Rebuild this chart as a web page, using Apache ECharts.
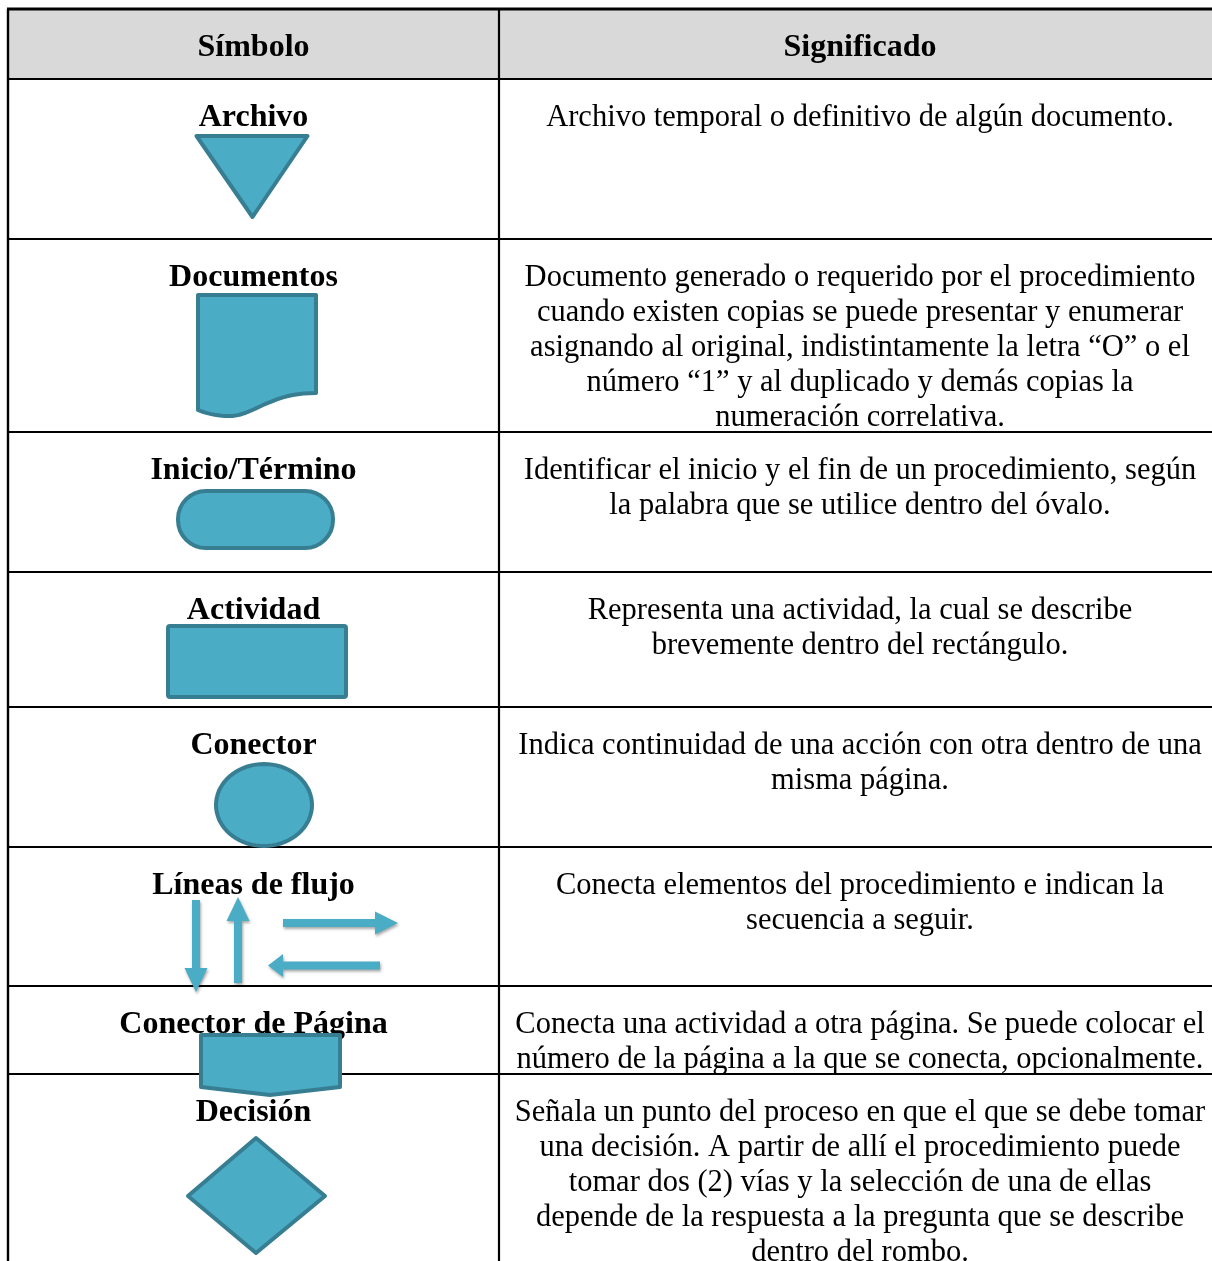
<!DOCTYPE html>
<html>
<head>
<meta charset="utf-8">
<script src="https://cdn.jsdelivr.net/npm/echarts@6/dist/echarts.min.js"></script>
<style>
html,body{margin:0;padding:0;background:#fff;}
#chart{width:1212px;height:1261px;}
</style>
</head>
<body>
<div id="chart"></div>
<script>
// ---------- DATA ----------
const headers = ['Símbolo', 'Significado'];
const symbolNames = ['Archivo', 'Documentos', 'Inicio/Término', 'Actividad', 'Conector', 'Líneas de flujo', 'Conector de Página', 'Decisión'];
const symbolShapes = ['triangle', 'document', 'terminal', 'process', 'connector', 'arrows', 'offpage', 'diamond'];
const meanings = [
  'Archivo temporal o definitivo de algún documento.',
  'Documento generado o requerido por el procedimiento\ncuando existen copias se puede presentar y enumerar\nasignando al original, indistintamente la letra “O” o el\nnúmero “1” y al duplicado y demás copias la\nnumeración correlativa.',
  'Identificar el inicio y el fin de un procedimiento, según\nla palabra que se utilice dentro del óvalo.',
  'Representa una actividad, la cual se describe\nbrevemente dentro del rectángulo.',
  'Indica continuidad de una acción con otra dentro de una\nmisma página.',
  'Conecta elementos del procedimiento e indican la\nsecuencia a seguir.',
  'Conecta una actividad a otra página. Se puede colocar el\nnúmero de la página a la que se conecta, opcionalmente.',
  'Señala un punto del proceso en que el que se debe tomar\nuna decisión. A partir de allí el procedimiento puede\ntomar dos (2) vías y la selección de una de ellas\ndepende de la respuesta a la pregunta que se describe\ndentro del rombo.'
];

// ---------- LAYOUT (page units) ----------
const rowEdges = [9, 79, 239, 432, 572, 707, 847, 986, 1074, 1300];
const colEdges = [8, 499, 1221];
const FILL = '#4BACC6', STROKE = '#377E92';
const SERIF = '"Liberation Serif", "Times New Roman", serif';

const chart = echarts.init(document.getElementById('chart'), null, {renderer: 'canvas'});

function lineEl(api, x1, y1, x2, y2, w) {
  const a = api.coord([x1, y1]), b = api.coord([x2, y2]);
  return {type: 'line', shape: {x1: a[0], y1: a[1], x2: b[0], y2: b[1]}, style: {stroke: '#000', lineWidth: w}};
}

function renderGrid(params, api) {
  const children = [];
  const h0 = api.coord([colEdges[0], rowEdges[0]]), h1 = api.coord([colEdges[2] + 20, rowEdges[1]]);
  children.push({type: 'rect', shape: {x: h0[0], y: h0[1], width: h1[0] - h0[0], height: h1[1] - h0[1]}, style: {fill: '#D9D9D9'}});
  rowEdges.forEach((y, i) => {
    if (i === rowEdges.length - 1) return;
    children.push(lineEl(api, colEdges[0] - 1, y, colEdges[2] + 20, y, i === 0 ? 2.8 : 2.2));
  });
  children.push(lineEl(api, colEdges[0], rowEdges[0], colEdges[0], 1300, 2.4));
  children.push(lineEl(api, colEdges[1], rowEdges[0], colEdges[1], 1300, 2.2));
  return {type: 'group', children: children};
}

function renderTexts(params, api) {
  const i = params.dataIndex;
  const top = rowEdges[i];
  const c1 = (colEdges[0] + colEdges[1]) / 2;
  const c2 = (colEdges[1] + colEdges[2]) / 2;
  const children = [];
  if (i === 0) {
    const mid = (rowEdges[0] + rowEdges[1]) / 2 + 3.5;
    const p1 = api.coord([c1, mid]), p2 = api.coord([c2, mid]);
    children.push({type: 'text', style: {text: headers[0], x: p1[0], y: p1[1], align: 'center', verticalAlign: 'middle', font: 'bold 32px ' + SERIF, fill: '#000'}});
    children.push({type: 'text', style: {text: headers[1], x: p2[0], y: p2[1], align: 'center', verticalAlign: 'middle', font: 'bold 32px ' + SERIF, fill: '#000'}});
  } else {
    const k = i - 1;
    const p1 = api.coord([c1, top + 39]);
    children.push({type: 'text', style: {text: symbolNames[k], x: p1[0], y: p1[1], align: 'center', verticalAlign: 'middle', font: 'bold 32px ' + SERIF, fill: '#000'}});
    const p2 = api.coord([c2, top + 21.5]);
    children.push({type: 'text', style: {text: meanings[k], x: p2[0], y: p2[1], align: 'center', verticalAlign: 'top', lineHeight: 35, font: '30.5px ' + SERIF, fill: '#000'}});
  }
  return {type: 'group', children: children};
}

function bez(p0, p1, p2, p3, n) {
  const out = [];
  for (let j = 1; j <= n; j++) {
    const t = j / n, u = 1 - t;
    out.push([
      u*u*u*p0[0] + 3*u*u*t*p1[0] + 3*u*t*t*p2[0] + t*t*t*p3[0],
      u*u*u*p0[1] + 3*u*u*t*p1[1] + 3*u*t*t*p2[1] + t*t*t*p3[1]
    ]);
  }
  return out;
}

function renderShapes(params, api) {
  const k = params.dataIndex;
  const kind = symbolShapes[k];
  const top = rowEdges[k + 1];
  const cx = (colEdges[0] + colEdges[1]) / 2;
  const P = (dx, dy) => api.coord([cx + dx, top + dy]);
  const st = {fill: FILL, stroke: STROKE, lineWidth: 4, lineJoin: 'round'};
  const arrowSt = {fill: FILL, shadowBlur: 3, shadowColor: 'rgba(0,0,0,0.35)', shadowOffsetX: 1, shadowOffsetY: 2};
  const poly = (pts, style) => ({type: 'polygon', shape: {points: pts.map(p => P(p[0], p[1]))}, style: style || st});
  const rect = (dx, dy, w, h, r) => {
    const a = P(dx, dy), b = P(dx + w, dy + h);
    return {type: 'rect', shape: {x: a[0], y: a[1], width: b[0] - a[0], height: b[1] - a[1], r: r}, style: st};
  };
  let children = [];
  if (kind === 'triangle') {
    children.push(poly([[-57, 57], [54, 57], [-1, 138]]));
  } else if (kind === 'document') {
    let pts = [[-55.5, 56], [62.5, 56], [62.5, 154]];
    pts = pts.concat(bez([62.5, 154], [35, 154], [22, 161], [9.5, 166], 12));
    pts = pts.concat(bez([9.5, 166], [-3, 172], [-13, 177], [-23.5, 177], 12));
    pts = pts.concat(bez([-23.5, 177], [-38, 177], [-48, 174], [-55.5, 171], 10));
    children.push(poly(pts));
  } else if (kind === 'terminal') {
    children.push(rect(-75.5, 59, 155, 57, 28));
  } else if (kind === 'process') {
    children.push(rect(-85.5, 54, 178, 71, 2));
  } else if (kind === 'connector') {
    const pts = [];
    for (let a = 0; a < 72; a++) {
      const t = a / 72 * Math.PI * 2;
      pts.push([10.5 + 48 * Math.cos(t), 98 + 41 * Math.sin(t)]);
    }
    children.push(poly(pts));
  } else if (kind === 'arrows') {
    children.push(poly([[-61.5, 53], [-53.5, 53], [-53.5, 121], [-46, 121], [-57.5, 145], [-69, 121], [-61.5, 121]], arrowSt));
    children.push(poly([[-19.5, 136], [-11.5, 136], [-11.5, 74], [-4, 74], [-15.5, 50], [-27, 74], [-19.5, 74]], arrowSt));
    children.push(poly([[29.5, 72], [121.5, 72], [121.5, 64.5], [144.5, 76], [121.5, 87.5], [121.5, 80], [29.5, 80]], arrowSt));
    children.push(poly([[126.5, 114.5], [29.5, 114.5], [29.5, 107], [14.5, 118.5], [29.5, 130], [29.5, 122.5], [126.5, 122.5]], arrowSt));
  } else if (kind === 'offpage') {
    children.push(poly([[-52.5, 49], [86.5, 49], [86.5, 101], [16.5, 109], [-52.5, 101]]));
  } else if (kind === 'diamond') {
    children.push(poly([[2.5, 64], [71.5, 122], [2.5, 179], [-65.5, 122]]));
  }
  return {type: 'group', children: children};
}

const option = {
  backgroundColor: '#ffffff',
  animation: false,
  grid: {left: 0, right: 0, top: 0, bottom: 0},
  xAxis: {type: 'value', min: 0, max: 1212, show: false},
  yAxis: {type: 'value', min: 0, max: 1261, inverse: true, show: false},
  series: [
    {type: 'custom', name: 'grid', z: 1, silent: true, data: [0], renderItem: renderGrid},
    {type: 'custom', name: 'texts', z: 2, silent: true, data: [headers.join('|')].concat(symbolNames), renderItem: renderTexts},
    {type: 'custom', name: 'symbols', z: 3, silent: true, data: symbolShapes, renderItem: renderShapes}
  ]
};
chart.setOption(option);
</script>
</body>
</html>
